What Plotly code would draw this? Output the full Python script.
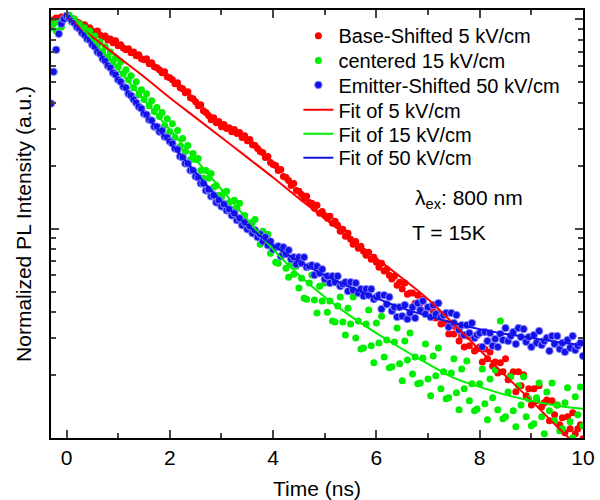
import numpy as np
import plotly.graph_objects as go

# Time grid: data sampled every 0.05 ns starting at -0.3 ns
t_start = -0.3
t_step = 0.05

# log10 of normalized PL intensity (one value per time bin)
red_log10 = [
 -0.008,-0.003,0.006,0.001,0.011,0.006,0.016,0.011,0.001,0.001,
 -0.013,-0.018,-0.032,-0.027,-0.046,-0.041,-0.056,-0.065,-0.056,-0.075,
 -0.084,-0.080,-0.099,-0.094,-0.113,-0.103,-0.127,-0.122,-0.137,-0.146,
 -0.141,-0.160,-0.156,-0.175,-0.170,-0.189,-0.194,-0.189,-0.213,-0.208,
 -0.227,-0.232,-0.241,-0.256,-0.251,-0.275,-0.280,-0.289,-0.308,-0.303,
 -0.327,-0.332,-0.351,-0.346,-0.375,-0.380,-0.394,-0.413,-0.408,-0.437,
 -0.446,-0.460,-0.480,-0.470,-0.494,-0.489,-0.513,-0.503,-0.522,-0.518,
 -0.537,-0.527,-0.546,-0.541,-0.565,-0.556,-0.580,-0.575,-0.599,-0.603,
 -0.618,-0.632,-0.637,-0.660,-0.656,-0.684,-0.694,-0.699,-0.722,-0.718,
 -0.751,-0.756,-0.770,-0.794,-0.784,-0.818,-0.822,-0.837,-0.856,-0.846,
 -0.875,-0.879,-0.903,-0.889,-0.927,-0.918,-0.937,-0.951,-0.941,-0.975,
 -0.965,-0.984,-1.013,-1.003,-1.037,-1.022,-1.051,-1.075,-1.061,-1.094,
 -1.084,-1.108,-1.127,-1.113,-1.146,-1.137,-1.161,-1.184,-1.165,-1.203,
 -1.194,-1.223,-1.241,-1.227,-1.270,-1.256,
 -1.289,-1.260,-1.313,-1.308,-1.308,-1.356,-1.318,-1.356,-1.337,-1.389,
 -1.380,-1.422,-1.394,-1.427,-1.403,-1.456,-1.451,-1.451,-1.503,-1.465,
 -1.503,-1.470,-1.537,-1.513,-1.565,-1.513,-1.560,-1.513,-1.584,-1.575,
 -1.565,-1.637,-1.575,-1.622,-1.589,-1.656,-1.637,-1.689,-1.641,-1.684,
 -1.622,-1.722,-1.703,-1.684,-1.779,-1.684,-1.751,-1.698,-1.798,-1.765,
 -1.842,-1.765,-1.822,-1.751,-1.851,-1.832,-1.818,-1.918,-1.822,-1.889,
 -1.842,-1.937,-1.903,-1.975,-1.898,-1.956,-1.879,-1.980,-1.956,-1.937,
 -2.003,
]

green_log10 = [
 -0.041,-0.022,-0.056,-0.013,-0.037,-0.003,0.011,0.020,-0.013,0.001,
 -0.037,-0.022,-0.060,-0.041,-0.080,-0.056,-0.103,-0.080,-0.122,-0.108,
 -0.156,-0.132,-0.180,-0.156,-0.203,-0.184,-0.227,-0.203,-0.260,-0.241,
 -0.289,-0.270,-0.327,-0.299,-0.361,-0.337,-0.384,-0.356,-0.413,-0.389,
 -0.441,-0.422,-0.465,-0.446,-0.508,-0.475,-0.537,-0.499,-0.565,-0.532,
 -0.608,-0.570,-0.632,-0.603,-0.670,-0.641,
 -0.670,-0.665,-0.722,-0.760,-0.722,-0.760,-0.737,-0.803,-0.794,-0.841,
 -0.851,-0.827,-0.822,-0.875,-0.908,-0.865,-0.903,-0.879,-0.946,-0.937,
 -0.994,-1.003,-0.970,-0.956,-1.032,-1.075,-1.013,-1.065,-1.027,-1.118,
 -1.099,-1.161,-1.165,-1.132,-1.113,-1.189,-1.232,-1.170,-1.218,-1.180,
 -1.284,-1.237,-1.332,-1.337,-1.260,-1.222,-1.341,-1.403,-1.275,-1.346,
 -1.260,-1.399,-1.346,-1.441,-1.446,-1.370,-1.327,-1.446,-1.508,-1.380,
 -1.456,-1.327,-1.522,-1.441,-1.575,-1.570,-1.456,-1.389,-1.560,-1.641,
 -1.451,-1.546,-1.418,-1.613,-1.532,-1.665,-1.660,-1.541,-1.475,-1.646,
 -1.727,-1.537,-1.627,-1.499,-1.694,-1.613,-1.741,-1.737,-1.618,-1.551,
 -1.718,-1.798,-1.608,-1.703,-1.570,-1.765,-1.684,-1.813,-1.808,-1.689,
 -1.622,-1.784,-1.865,-1.670,-1.765,-1.632,-1.822,-1.741,-1.870,-1.861,
 -1.741,-1.670,-1.837,-1.913,-1.718,-1.808,-1.675,-1.865,-1.441,-1.908,
 -1.899,-1.780,-1.708,-1.870,-1.946,-1.751,-1.842,-1.708,-1.899,-1.813,
 -1.941,-1.932,-1.808,-1.737,-1.899,-1.980,-1.780,-1.870,-1.737,-1.918,
 -1.842,-1.965,-1.956,-1.832,-1.760,-1.922,-1.999,-1.803,-1.889,-1.756,
 -1.941,
]

blue_log10 = [
 -0.403,-0.251,-0.146,-0.070,-0.022,0.001,0.016,0.006,-0.008,-0.018,
 -0.037,-0.046,-0.065,-0.075,-0.094,-0.099,-0.122,-0.132,-0.156,-0.165,
 -0.189,-0.199,-0.222,-0.232,-0.256,-0.265,-0.289,-0.299,-0.322,-0.327,
 -0.356,-0.365,-0.384,-0.399,-0.418,-0.427,-0.451,-0.456,-0.480,-0.484,
 -0.513,-0.513,-0.537,-0.532,-0.561,-0.565,-0.584,-0.594,-0.618,-0.622,
 -0.656,-0.660,-0.689,-0.689,-0.722,-0.722,-0.751,-0.756,-0.784,-0.784,
 -0.818,-0.813,-0.846,-0.841,-0.875,-0.865,-0.894,-0.884,-0.913,-0.908,
 -0.937,-0.927,-0.960,-0.951,-0.984,-0.970,-1.003,-0.989,-1.022,-1.008,
 -1.041,-1.027,-1.061,-1.041,-1.080,-1.061,
 -1.099,-1.089,-1.084,-1.132,-1.089,-1.122,-1.103,-1.146,-1.137,-1.170,
 -1.137,-1.165,-1.137,-1.184,-1.180,-1.175,-1.222,-1.180,-1.213,-1.194,
 -1.241,-1.227,-1.260,-1.227,-1.256,-1.227,-1.275,-1.265,-1.256,-1.299,
 -1.256,-1.294,-1.260,-1.308,-1.289,-1.322,-1.289,-1.318,-1.289,-1.337,
 -1.327,-1.318,-1.384,-1.318,-1.361,-1.327,-1.394,-1.375,-1.422,-1.375,
 -1.418,-1.365,-1.432,-1.403,-1.375,-1.427,-1.356,-1.389,-1.346,-1.408,
 -1.375,-1.422,-1.365,-1.408,-1.356,-1.422,-1.413,-1.403,-1.470,-1.403,
 -1.451,-1.413,-1.484,-1.461,-1.508,-1.461,-1.499,-1.451,-1.522,-1.508,
 -1.499,-1.565,-1.494,-1.537,-1.499,-1.560,-1.527,-1.565,-1.503,-1.532,
 -1.475,-1.537,-1.513,-1.494,-1.551,-1.475,-1.518,-1.480,-1.541,-1.518,
 -1.565,-1.508,-1.546,-1.489,-1.556,-1.537,-1.522,-1.584,-1.513,-1.551,
 -1.513,-1.575,-1.546,-1.589,-1.532,-1.570,-1.513,-1.580,-1.560,-1.546,
 -1.608,
]

# Fit curves (time in ns, log10 intensity)
fit_red_t = [0.0, 0.5, 1.0, 1.5, 2.0, 2.5, 3.0, 3.5, 4.0, 4.5, 5.0, 5.5, 6.0, 6.5, 7.0, 7.5, 8.0, 8.5, 9.0, 9.5, 9.8]
fit_red_log10 = [0.011, -0.084, -0.180, -0.275, -0.375, -0.470, -0.565, -0.660, -0.756, -0.856, -0.951, -1.051, -1.142, -1.237, -1.337, -1.456, -1.580, -1.703, -1.822, -1.946, -2.017]

fit_green_t = [0.06, 0.5, 1.0, 1.5, 2.0, 2.5, 3.0, 3.5, 4.0, 4.5, 5.0, 5.5, 6.0, 6.5, 7.0, 7.5, 8.0, 8.5, 9.0, 9.5, 10.0]
fit_green_log10 = [0.030, -0.099, -0.241, -0.384, -0.527, -0.670, -0.813, -0.956, -1.099, -1.222, -1.327, -1.418, -1.499, -1.575, -1.646, -1.713, -1.756, -1.794, -1.822, -1.846, -1.860]

fit_blue_t = [0.0, 0.5, 1.0, 1.5, 2.0, 2.5, 3.0, 3.5, 4.0, 4.5, 5.0, 5.5, 6.0, 6.5, 7.0, 7.5, 8.0, 8.5, 9.0, 9.5, 10.0]
fit_blue_log10 = [0.016, -0.118, -0.289, -0.446, -0.589, -0.732, -0.870, -0.984, -1.080, -1.156, -1.222, -1.280, -1.332, -1.380, -1.418, -1.451, -1.480, -1.503, -1.522, -1.541, -1.556]

assert len(red_log10) == len(green_log10) == len(blue_log10) == 207, (len(red_log10), len(green_log10), len(blue_log10))

names_data = ["Base-Shifted 5 kV/cm", "centered 15 kV/cm", "Emitter-Shifted 50 kV/cm"]
names_fit = ["Fit of 5 kV/cm", "Fit of 15 kV/cm", "Fit of 50 kV/cm"]
x_ticks = [0, 2, 4, 6, 8, 10]

FONT = "Arial, Liberation Sans, sans-serif"
RED, GREEN, BLUE = "#ff0000", "#00ee00", "#1212e8"
legend_ids = ["legend", "legend2", "legend3", "legend4", "legend5", "legend6"]

fig = go.Figure()

data_specs = [
    (red_log10, names_data[0], RED, RED, 0, 7),
    (green_log10, names_data[1], GREEN, GREEN, 0, 7),
    (blue_log10, names_data[2], BLUE, "#8f8fff", 0.9, 7.5),
]
for k, (vals, name, color, lc, lw, sz) in enumerate(data_specs):
    fig.add_trace(go.Scatter(
        x0=t_start, dx=t_step, y=10 ** np.array(vals), mode="markers", name=name,
        marker=dict(size=sz, color=color, line=dict(color=lc, width=lw)),
        legend=legend_ids[k],
    ))

fit_specs = [
    (fit_red_t, fit_red_log10, names_fit[0], RED),
    (fit_green_t, fit_green_log10, names_fit[1], GREEN),
    (fit_blue_t, fit_blue_log10, names_fit[2], BLUE),
]
for k, (tt, vals, name, color) in enumerate(fit_specs):
    fig.add_trace(go.Scatter(x=tt, y=10 ** np.array(vals), mode="lines", name=name,
                             line=dict(color=color, width=2, shape="spline"),
                             legend=legend_ids[3 + k]))

# one legend per entry so rows sit where the reference puts them
row_y = [0.940, 0.882, 0.825, 0.767, 0.711, 0.655]
legends = {}
for k, lid in enumerate(legend_ids):
    legends[lid] = dict(x=0.465, y=row_y[k], xanchor="left", yanchor="middle",
                        bgcolor="rgba(0,0,0,0)", borderwidth=0,
                        font=dict(family=FONT, size=20, color="black"))

fig.update_layout(
    width=600, height=500,
    margin=dict(l=51, r=17, t=10, b=62),
    paper_bgcolor="white", plot_bgcolor="white",
    font=dict(family=FONT, size=20, color="black"),
    showlegend=True,
    **legends,
    xaxis=dict(
        range=[-0.3, 10], tickvals=x_ticks, ticks="inside", ticklen=8, tickwidth=2,
        minor=dict(tickvals=[1, 3, 5, 7, 9], ticklen=5, tickwidth=2, ticks="inside"),
        showline=True, linewidth=2, linecolor="black", mirror="ticks",
        showgrid=False, zeroline=False,
        tickfont=dict(family=FONT, size=21),
        title=dict(text="Time (ns)", font=dict(family=FONT, size=21), standoff=14),
        automargin=False,
    ),
    yaxis=dict(
        type="log", range=[-2, 0.044],
        tickvals=[0.01, 0.1, 1], ticks="inside", ticklen=8, tickwidth=2,
        minor=dict(tickvals=[0.02, 0.03, 0.04, 0.05, 0.06, 0.07, 0.08, 0.09,
                             0.2, 0.3, 0.4, 0.5, 0.6, 0.7, 0.8, 0.9],
                   ticklen=5, tickwidth=2, ticks="inside"),
        showticklabels=False,
        showline=True, linewidth=2, linecolor="black", mirror="ticks",
        showgrid=False, zeroline=False,
        title=dict(text="Normalized PL Intensity (a.u.)", font=dict(family=FONT, size=21), standoff=12),
        automargin=False,
    ),
)

fig.add_annotation(x=6.70, y=-0.860, xref="x", yref="y", xanchor="left", yanchor="middle",
                   text="λ<sub>ex</sub>: 800 nm", showarrow=False, font=dict(family=FONT, size=21))
fig.add_annotation(x=6.66, y=-1.018, xref="x", yref="y", xanchor="left", yanchor="middle",
                   text="T = 15K", showarrow=False, font=dict(family=FONT, size=21))

fig.write_html("out.html")
